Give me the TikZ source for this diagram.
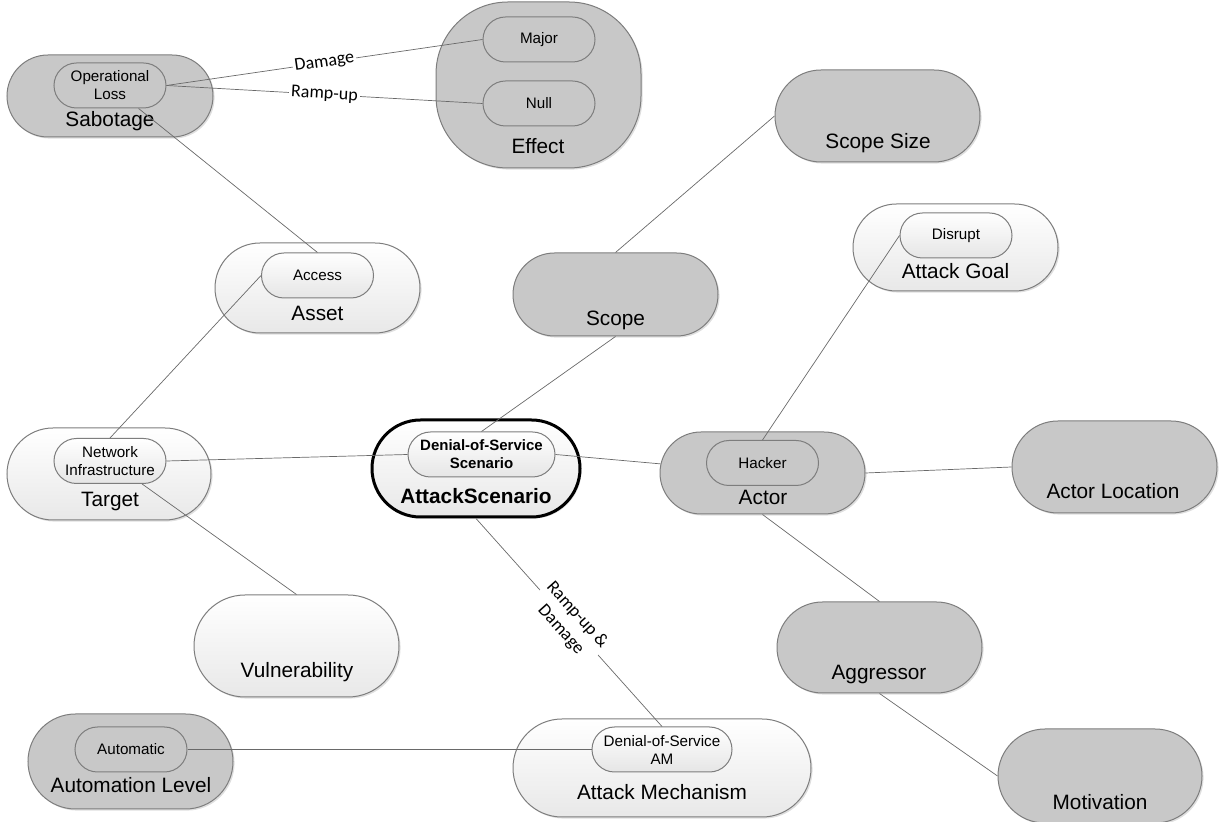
\documentclass[tikz,border=0pt]{standalone}
\usepackage{fontspec}
\setmainfont{Liberation Sans}
\newfontfamily\edgefont{Carlito}
\usetikzlibrary{shapes.misc,shadows}
\definecolor{blobgray}{RGB}{200,200,200}
\definecolor{blobline}{RGB}{125,125,125}
\definecolor{linkgray}{RGB}{105,105,105}
\tikzset{
  blob/.style={rounded rectangle,draw=blobline,line width=.5pt,inner sep=0pt,
    drop shadow={shadow xshift=.8pt,shadow yshift=-.8pt,opacity=.25}},
  grayblob/.style={blob,fill=blobgray},
  whiteblob/.style={blob,top color=white,bottom color=black!9},
  inblob/.style={rounded rectangle,draw=blobline,line width=.5pt,inner sep=0pt,
    minimum width=56pt,minimum height=22.5pt,align=center,
    font=\fontsize{7.6}{9}\selectfont},
  inwhite/.style={inblob,top color=white,bottom color=black!10},
  blobtext/.style={anchor=base,font=\fontsize{10.4}{12}\selectfont},
  link/.style={draw=linkgray,line width=.35pt},
  linktext/.style={font=\edgefont\fontsize{9}{11}\selectfont,fill=white,
    inner sep=1pt,sloped,align=center}
}

\begin{document}
\begin{tikzpicture}[x=.5pt,y=-.5pt]
  \useasboundingbox (0,0) rectangle (1221,822);
  \node[grayblob,minimum width=103pt,minimum height=41pt] (sabotage) at (110,96) {};
  \node[inblob] (oploss) at (110,85.5) {Operational\\Loss};
  \node[blobtext] (sabotageT) at (110,127) {Sabotage};

  \node[grayblob,rectangle,rounded corners=36pt,minimum width=102.5pt,
    minimum height=83pt] (effect) at (538.5,85) {};
  \node[inblob] (major) at (539,39.5) {Major};
  \node[inblob] (null) at (539,103.5) {Null};
  \node[blobtext] (effectT) at (538,154) {Effect};

  \node[grayblob,minimum width=102.5pt,minimum height=46pt] (scopesize) at (877.5,116) {};
  \node[blobtext] (scopesizeT) at (878,149) {Scope Size};

  \node[whiteblob,minimum width=102.5pt,minimum height=43.5pt] (goal) at (955.5,247.5) {};
  \node[inwhite] (disrupt) at (956,235.5) {Disrupt};
  \node[blobtext] (goalT) at (955.5,279) {Attack Goal};

  \node[grayblob,minimum width=102.5pt,minimum height=41.5pt] (scope) at (615.5,294.5) {};
  \node[blobtext] (scopeT) at (615.5,326) {Scope};

  \node[whiteblob,minimum width=102.5pt,minimum height=45pt] (asset) at (317.5,288) {};
  \node[inwhite] (access) at (317.5,275.5) {Access};
  \node[blobtext] (assetT) at (317.5,321) {Asset};

  \node[whiteblob,minimum width=102pt,minimum height=46pt] (target) at (109,474) {};
  \node[inwhite] (netinfra) at (110,461) {Network\\Infrastructure};
  \node[blobtext] (targetT) at (110,507) {Target};

  \node[whiteblob,draw=black,line width=1.5pt,minimum width=104pt,
    minimum height=48.5pt] (scenario) at (476,468.5) {};
  \node[inwhite,minimum width=73.5pt,font=\bfseries\fontsize{7.5}{9}\selectfont]
    (dosscen) at (481.5,454.5) {Denial-of-Service\\Scenario};
  \node[blobtext,font=\bfseries\fontsize{10.4}{12}\selectfont] (scenarioT) at (476,504) {AttackScenario};

  \node[grayblob,minimum width=102.5pt,minimum height=41pt] (actor) at (762.5,473) {};
  \node[inblob] (hacker) at (762.5,463) {Hacker};
  \node[blobtext] (actorT) at (763,505) {Actor};

  \node[grayblob,minimum width=102.5pt,minimum height=46pt] (actorloc) at (1114.5,467) {};
  \node[blobtext] (actorlocT) at (1113,499) {Actor Location};

  \node[whiteblob,minimum width=102.5pt,minimum height=51pt] (vuln) at (296.5,646) {};
  \node[blobtext] (vulnT) at (297,678) {Vulnerability};

  \node[grayblob,minimum width=102.5pt,minimum height=45.5pt] (aggressor) at (879.5,647.5) {};
  \node[blobtext] (aggressorT) at (879,680) {Aggressor};

  \node[grayblob,minimum width=102.5pt,minimum height=47.5pt] (autolevel) at (130.5,761.5) {};
  \node[inblob] (automatic) at (131,749.5) {Automatic};
  \node[blobtext] (autolevelT) at (131,793) {Automation Level};

  \node[whiteblob,minimum width=149pt,minimum height=49pt] (mechanism) at (662,768) {};
  \node[inwhite,minimum width=70pt] (dosam) at (662,749.5) {Denial-of-Service\\AM};
  \node[blobtext] (mechanismT) at (662,800) {Attack Mechanism};

  \node[grayblob,minimum width=102pt,minimum height=47pt] (motivation) at (1100,776) {};
  \node[blobtext] (motivationT) at (1100,810) {Motivation};

  \draw[link] (oploss.east) -- node[linktext] {Damage} (major.west);
  \draw[link] (oploss.east) -- node[linktext] {Ramp-up} (null.west);
  \draw[link] (oploss) -- (access.north);
  \draw[link] (access.west) -- (netinfra.north);
  \draw[link] (netinfra.east) -- (dosscen.west);
  \draw[link] (netinfra) -- (vuln.north);
  \draw[link] (scopesize.west) -- (scope.north);
  \draw[link] (scope.south) -- (dosscen.north);
  \draw[link] (dosscen.east) -- (actor);
  \draw[link] (hacker.north) -- (disrupt.west);
  \draw[link] (actor.east) -- (actorloc.west);
  \draw[link] (actor.south) -- (aggressor.north);
  \draw[link] (aggressor.south) -- (motivation.west);
  \draw[link] (automatic.east) -- (dosam.west);
  \draw[link] (scenario.south) -- node[linktext] {Ramp-up \&\\Damage} (dosam.north);
\end{tikzpicture}
\end{document}
